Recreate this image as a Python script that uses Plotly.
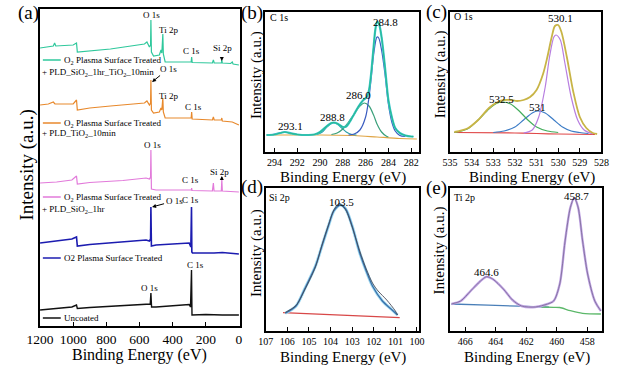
import plotly.graph_objects as go

W, H = 622, 366
FONT = "Liberation Serif"

# ---------------- Panel (a): survey spectra (energy eV, stacked intensity a.u.) -------------
a_green_E = [1200, 1150, 1120, 1112, 1105, 1000, 980, 975, 900, 775, 570, 555, 540, 533, 531, 528, 515, 480, 470, 465, 459, 456, 445, 300, 288, 285, 282, 160, 154, 149, 106, 103, 100, 50, 40, 35, 0]
a_green_I = [278, 279, 280, 283, 280, 281, 283, 274, 275, 277, 282, 284, 279, 281, 306, 274, 270, 271, 276, 273, 292, 272, 264, 264, 264, 269, 263.5, 263, 266, 263, 263, 266, 263, 262.5, 264, 262, 261]

a_orange_E = [1200, 1150, 1120, 1110, 1000, 980, 975, 900, 775, 570, 555, 540, 533, 531, 528, 515, 480, 470, 465, 459, 456, 445, 300, 288, 285, 282, 160, 154, 149, 106, 103, 100, 40, 0]
a_orange_I = [221, 222, 224, 222, 222, 226, 216, 218, 220, 223, 225, 221, 223, 246, 216, 213, 214, 218, 216, 228, 214, 208, 208, 208, 214, 207, 206, 209, 206, 206, 208, 205, 204, 201]

a_pink_E = [1200, 1100, 1008, 980, 975, 900, 700, 560, 540, 533, 531, 528, 500, 300, 287, 285, 283, 160, 154, 150, 106, 103, 100, 0]
a_pink_I = [143, 144, 146, 150, 142, 143.5, 145.5, 148, 147, 149, 176, 137, 136, 136, 136, 138, 135.5, 135, 143, 135, 135, 146, 135, 134]

a_blue_E = [1200, 1100, 1008, 980, 975, 900, 700, 560, 540, 533, 531, 528, 500, 350, 300, 290, 286, 284, 280, 150, 100, 0]
a_blue_I = [83, 85, 87, 89, 80, 81.5, 84, 86, 85, 87, 119, 80, 81, 82, 83, 79, 119, 74, 73, 73, 73.5, 72]

a_black_E = [1200, 1100, 1008, 980, 975, 900, 700, 545, 535, 531, 527, 500, 350, 300, 292, 286, 283, 200, 100, 0]
a_black_I = [16, 17.5, 19, 21, 17.5, 18.5, 20.5, 22, 22, 33, 19, 19, 20.5, 21.5, 19, 56, 11, 11.5, 11, 11]

a_ticks = [1200, 1000, 800, 600, 400, 200, 0]

# ---------------- Panel (b): C 1s -------------
b_env_E = [294.7, 294, 293.5, 293.1, 292.5, 292, 291, 290.5, 290, 289.5, 289, 288.8, 288.5, 288, 287.7, 287.4, 287, 286.6, 286.2, 285.9, 285.7, 285.5, 285.3, 285.15, 285.0, 284.85, 284.6, 284.3, 284.0, 283.7, 283.4, 283.0, 282.5, 282.0, 281.8]
b_env_I = [17, 17.5, 19, 20, 18.5, 17.5, 17, 17.5, 20, 25, 29, 29.5, 28.5, 25, 25.5, 30, 38, 46, 52, 55, 62, 80, 105, 122, 130, 129, 115, 85, 52, 35, 24, 19, 16.5, 15.5, 15.5]
b_p1_E = [287.5, 287, 286.5, 286, 285.7, 285.5, 285.3, 285.1, 285.0, 284.85, 284.6, 284.3, 284.0, 283.7, 283.4, 283.0, 282.5]
b_p1_I = [17, 18, 22, 35, 55, 75, 97, 112, 115, 114, 102, 78, 48, 30, 21, 16.5, 15.5]
b_p2_E = [289, 288.5, 288, 287.5, 287, 286.5, 286.1, 285.7, 285.3, 285, 284.6, 284.2, 284]
b_p2_I = [17.5, 19, 23, 30, 38, 46, 49, 46, 37, 28, 20, 16, 15]
b_p3_E = [290.3, 289.8, 289.4, 289, 288.8, 288.5, 288.1, 287.7, 287.2, 286.8]
b_p3_I = [17.5, 20, 25, 28.5, 29, 28, 24, 20, 17.5, 17]
b_p4_E = [294.2, 293.6, 293.1, 292.6, 292]
b_p4_I = [17.5, 19, 20, 19, 17.5]
b_bg_E = [294.7, 290, 287, 285, 283, 281.5]
b_bg_I = [17, 17, 16.5, 15, 13.5, 13]
b_ticks = [294, 292, 290, 288, 286, 284, 282]

# ---------------- Panel (c): O 1s -------------
c_env_E = [534.8, 534.2, 533.7, 533.2, 532.8, 532.5, 532.2, 531.9, 531.6, 531.3, 531.0, 530.7, 530.5, 530.3, 530.15, 530.0, 529.85, 529.6, 529.3, 529.0, 528.7, 528.4, 528.2]
c_env_I = [20, 23.5, 32, 44, 50, 52, 52, 51, 52, 55, 62, 78, 95, 115, 126, 127, 120, 95, 60, 35, 24, 19, 18]
c_p1_E = [531.6, 531.2, 530.9, 530.6, 530.4, 530.2, 530.1, 529.9, 529.7, 529.4, 529.1, 528.8, 528.4]
c_p1_I = [19, 22, 35, 65, 95, 115, 117, 112, 90, 55, 32, 22, 18]
c_p2_E = [534.8, 534.2, 533.7, 533.2, 532.8, 532.55, 532.2, 531.8, 531.4, 531.0, 530.5, 530.0]
c_p2_I = [19.5, 23, 32, 43, 49, 50, 48, 41, 32, 25, 21, 19.5]
c_p3_E = [533, 532.5, 532, 531.6, 531.2, 530.95, 530.6, 530.2, 529.8, 529.4, 529, 528.6]
c_p3_I = [19.5, 21, 25, 32, 39, 41, 39, 32, 25, 21, 19.5, 18.5]
c_bg_E = [534.8, 532, 531, 530, 528.3]
c_bg_I = [19.5, 19, 18.5, 18, 17.5]
c_ticks = [535, 534, 533, 532, 531, 530, 529, 528]

# ---------------- Panel (d): Si 2p -------------
d_env_E = [106.1, 105.6, 105.2, 104.7, 104.4, 104.1, 103.85, 103.55, 103.3, 103.0, 102.65, 102.35, 102.06, 101.6, 101.2, 100.9]
d_env_I = [17.7, 25, 42, 65, 85, 105, 120, 126, 122, 105, 78, 60, 45, 30, 22, 16]
d_raw_E = [106.1, 105.6, 105.2, 104.7, 104.4, 104.1, 103.85, 103.6, 103.3, 103.0, 102.65, 102.35, 102.06, 101.8, 101.4, 101.0, 100.9]
d_raw_I = [18.5, 25.5, 41, 64, 86, 106, 121, 127.5, 121, 104, 80, 62, 48, 40, 31, 20, 16]
d_bg_E = [106.2, 103.5, 100.8]
d_bg_I = [18.3, 15.8, 13.3]
d_ticks = [107, 106, 105, 104, 103, 102, 101, 100]

# ---------------- Panel (e): Ti 2p -------------
e_env_E = [466.9, 466.3, 465.65, 465.0, 464.6, 464.2, 463.5, 462.9, 462.3, 461.4, 460.6, 460.2, 459.8, 459.45, 459.1, 458.85, 458.6, 458.3, 457.97, 457.5, 457.1]
e_env_I = [27, 30, 40, 50, 54.3, 52, 42, 31, 25, 24, 27, 30, 47, 90, 123.7, 133, 124, 90, 57, 30, 20]
e_bg1_E = [466.9, 464.5, 462.5, 460.5]
e_bg1_I = [27, 25.8, 24.8, 23.8]
e_bg2_E = [461.0, 460.2, 459.8, 459.1, 458.3, 457.1]
e_bg2_I = [24, 23.7, 23.5, 20.3, 17.7, 17]
e_ticks = [466, 464, 462, 460, 458]

# ---------------- colours ----------------
C_GREEN = "#2fc89c"
C_ORANGE = "#e8892c"
C_PINK = "#e27ada"
C_BLUE = "#1c1cb0"
C_BLACK = "#111111"


def px(x):
    return x / W


def py(y):
    return 1 - y / H


fig = go.Figure()


def add(x, y, ax, color, width=1.2, shape="linear"):
    line = dict(color=color, width=width, shape=shape)
    if shape == "spline":
        line["smoothing"] = 0.8
    fig.add_trace(go.Scatter(x=x, y=y, xaxis="x" + ax, yaxis="y" + ax, mode="lines",
                             line=line, showlegend=False, hoverinfo="skip"))


# panel a
add(a_green_E, a_green_I, "", C_GREEN)
add(a_orange_E, a_orange_I, "", C_ORANGE)
add(a_pink_E, a_pink_I, "", C_PINK)
add(a_blue_E, a_blue_I, "", C_BLUE, 1.6)
add(a_black_E, a_black_I, "", C_BLACK, 1.4)

# panel b
add(b_bg_E, b_bg_I, "2", "#e0a545", 1.2, "spline")
add(b_p4_E, b_p4_I, "2", "#4a7ec8", 1.2, "spline")
add(b_p3_E, b_p3_I, "2", "#2a9fa8", 1.2, "spline")
add(b_p2_E, b_p2_I, "2", "#3aa07a", 1.2, "spline")
add(b_p1_E, b_p1_I, "2", "#3a5cc0", 1.2, "spline")
add(b_env_E, b_env_I, "2", "#3fc6cf", 2.2, "spline")
add(b_env_E, b_env_I, "2", "#27bb92", 1.1, "spline")

# panel c
add(c_bg_E, c_bg_I, "3", "#e04848", 1.2, "spline")
add(c_p3_E, c_p3_I, "3", "#3c7cc6", 1.2, "spline")
add(c_p2_E, c_p2_I, "3", "#44ad5c", 1.2, "spline")
add(c_p1_E, c_p1_I, "3", "#b77ee0", 1.2, "spline")
add(c_env_E, c_env_I, "3", "#c8b446", 1.8, "spline")

# panel d
add(d_bg_E, d_bg_I, "4", "#d84848", 1.3, "spline")
add(d_env_E, d_env_I, "4", "#9fd8f0", 3.0, "spline")
add(d_env_E, d_env_I, "4", "#3a70aa", 1.3, "spline")
add(d_raw_E, d_raw_I, "4", "#454a58", 0.9, "spline")

# panel e
add(e_bg1_E, e_bg1_I, "5", "#4a7fb8", 1.3, "spline")
add(e_bg2_E, e_bg2_I, "5", "#5cb86a", 1.3, "spline")
add(e_env_E, e_env_I, "5", "#c3a6e6", 2.4, "spline")
add(e_env_E, e_env_I, "5", "#7e6e9a", 0.9, "spline")

frame = dict(showline=True, mirror=True, linecolor="black", linewidth=1.6, showgrid=False,
             zeroline=False)


def xax(dom, rng, ticks, yanchor, size):
    return dict(domain=dom, range=rng, anchor=yanchor, tickvals=ticks, ticks="inside", ticklen=4,
                tickcolor="black", tickfont=dict(family=FONT, size=size, color="black"), **frame)


def yax(dom, rng, xanchor):
    return dict(domain=dom, range=rng, anchor=xanchor, showticklabels=False, ticks="", **frame)


fig.update_layout(
    width=W, height=H, margin=dict(l=0, r=0, t=0, b=0), autosize=False,
    paper_bgcolor="white", plot_bgcolor="white",
    font=dict(family=FONT, color="black"),
    xaxis=xax([px(27), px(234)], [1200, -5], a_ticks, "y", 13.5),
    yaxis=yax([py(326), py(9)], [0, 317], "x"),
    xaxis2=xax([px(260), px(420)], [294.85, 281.3], b_ticks, "y2", 10),
    yaxis2=yax([py(152), py(12)], [0, 140], "x2"),
    xaxis3=xax([px(452), px(609)], [535, 528], c_ticks, "y3", 10),
    yaxis3=yax([py(152), py(12)], [0, 140], "x3"),
    xaxis4=xax([px(261), px(420)], [107, 99.9], d_ticks, "y4", 10),
    yaxis4=yax([py(331), py(188)], [0, 143], "x4"),
    xaxis5=xax([px(452), px(610)], [467, 457], e_ticks, "y5", 10),
    yaxis5=yax([py(331), py(188)], [0, 143], "x5"),
)

ann = []


def paper_text(t, x, y, size, angle=0, xanchor="center"):
    ann.append(dict(text=t, x=px(x), y=py(y), xref="paper", yref="paper", showarrow=False,
                    font=dict(family=FONT, size=size, color="black"), textangle=angle,
                    xanchor=xanchor, yanchor="middle"))


def data_text(t, x, y, ax, size=9, xanchor="center", arrow=None):
    d = dict(text=t, x=x, y=y, xref="x" + ax, yref="y" + ax,
             font=dict(family=FONT, size=size, color="black"), xanchor=xanchor, yanchor="middle")
    if arrow:
        d.update(showarrow=True, ax=arrow[0], ay=arrow[1], arrowhead=2, arrowsize=0.8,
                 arrowwidth=1, arrowcolor="black", xanchor="center")
    else:
        d.update(showarrow=False)
    ann.append(d)


# panel letters
for t, x, y in [("(a)", 15, 13), ("(b)", 247, 13), ("(c)", 438, 12), ("(d)", 247, 187), ("(e)", 438, 188)]:
    paper_text(t, x, y, 19)

# axis titles
paper_text("Binding Energy (eV)", 130, 355, 16)
paper_text("Binding Energy (eV)", 341, 177, 15)
paper_text("Binding Energy (eV)", 537, 177, 15)
paper_text("Binding Energy (eV)", 341, 357, 15)
paper_text("Binding Energy (eV)", 532, 357, 15)
paper_text("Intensity (a.u.)", 13, 165, 19, -90)
paper_text("Intensity (a.u.)", 251, 75, 15, -90)
paper_text("Intensity (a.u.)", 442, 74, 15, -90)
paper_text("Intensity (a.u.)", 251, 253, 15, -90)
paper_text("Intensity (a.u.)", 441, 250, 15, -90)

# inner panel labels
paper_text("C 1s", 263, 17, 10, xanchor="left")
paper_text("O 1s", 454, 16, 10, xanchor="left")
paper_text("Si 2p", 262, 197, 10, xanchor="left")
paper_text("Ti 2p", 454, 197, 10, xanchor="left")

# peak labels b-e
data_text("284.8", 284.25, 130, "2", 11)
data_text("286.0", 286.6, 57, "2", 11)
data_text("288.8", 288.9, 35, "2", 11)
data_text("293.1", 292.6, 26, "2", 11)
data_text("530.1", 529.9, 134, "3", 11)
data_text("532.5", 532.6, 53, "3", 11)
data_text("531", 530.95, 45, "3", 11)
data_text("103.5", 103.5, 129, "4", 11)
data_text("458.7", 458.7, 135, "5", 11)
data_text("464.6", 464.6, 59, "5", 11)

# survey labels (panel a)
data_text("O 1s", 530, 311, "")
data_text("Ti 2p", 425, 296, "")
data_text("C 1s", 285, 275, "")
data_text("Si 2p", 96, 278, "")
data_text(" ", 103, 265, "", arrow=(0, -8))
data_text("O<sub>2</sub> Plasma Surface Treated", 1066, 266, "", 9, "left")
data_text("+ PLD_SiO<sub>2</sub>_1hr_TiO<sub>2</sub>_10min", 1198, 254, "", 9, "left")

data_text("O 1s", 524, 244, "", arrow=(16, -13))
data_text("Ti 2p", 425, 230, "")
data_text("C 1s", 274, 219, "")
data_text("O<sub>2</sub> Plasma Surface Treated", 1066, 203, "", 9, "left")
data_text("+ PLD_TiO<sub>2</sub>_10min", 1198, 193, "", 9, "left")

data_text("O 1s", 524, 181, "")
data_text("C 1s", 291, 146, "")
data_text("Si 2p", 117, 154, "")
data_text(" ", 103, 150, "", arrow=(0, 9))
data_text("O<sub>2</sub> Plasma Surface Treated", 1066, 129, "", 9, "left")
data_text("+ PLD_SiO<sub>2</sub>_1hr", 1198, 117, "", 9, "left")

data_text("O 1s", 524, 119, "", arrow=(22, -6))
data_text("C 1s", 291, 126, "")
data_text("O2 Plasma Surface Treated", 1066, 68, "", 9, "left")

data_text("O 1s", 542, 38, "")
data_text("C 1s", 262, 61, "")
data_text("Uncoated", 1066, 8, "", 9, "left")

fig.update_layout(annotations=ann)

# legend sample lines in panel (a)
shapes = []
for yv, col in [(266, C_GREEN), (203, C_ORANGE), (129, C_PINK), (68, C_BLUE), (8, C_BLACK)]:
    shapes.append(dict(type="line", xref="x", yref="y", x0=1183, x1=1075, y0=yv, y1=yv,
                       line=dict(color=col, width=1.4)))
fig.update_layout(shapes=shapes)

fig.write_html("out.html", config={"displayModeBar": False},
               post_script="document.body.style.margin='0';document.body.style.padding='0';")
